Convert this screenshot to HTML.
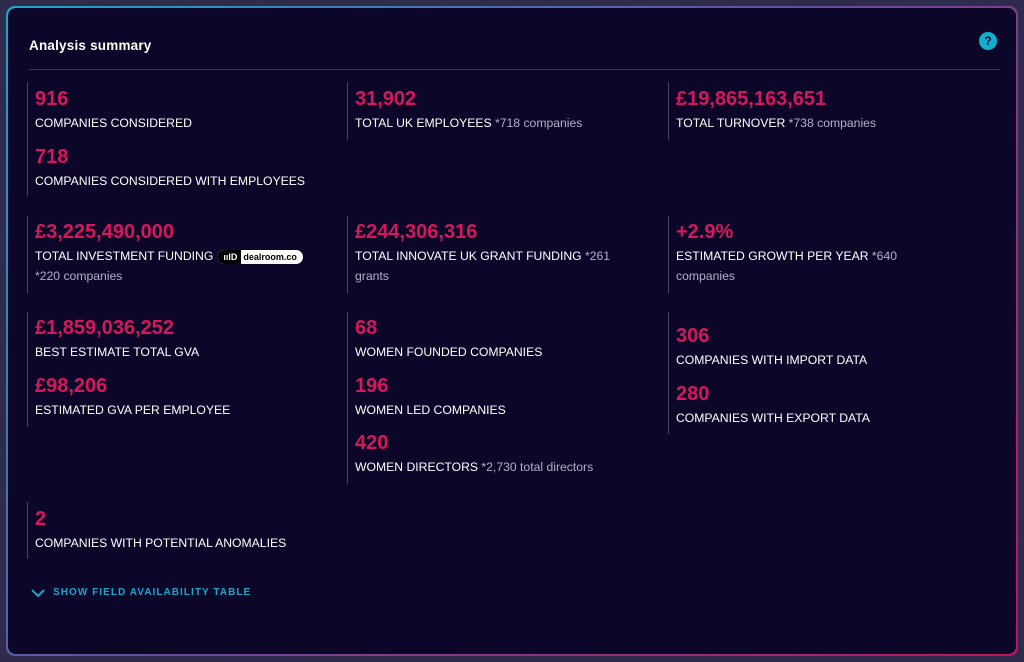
<!DOCTYPE html>
<html><head><meta charset="utf-8"><style>
*{margin:0;padding:0;box-sizing:border-box}
body{width:1024px;height:662px;background:#2f2b4c;font-family:"Liberation Sans",sans-serif;position:relative;overflow:hidden}
.card{position:absolute;left:6px;top:6px;width:1012px;height:650px;border-radius:9px;background:linear-gradient(135deg,#1aa6c8,#6a4a9a 50%,#c0145a);padding:2px}
.in{width:100%;height:100%;border-radius:8px;background:#0c0628;position:relative}
.a{position:absolute;white-space:nowrap}
.t{left:21px;top:30px;color:#fff;font-size:13.5px;font-weight:bold;letter-spacing:0.2px}
.hr{position:absolute;left:21px;top:61px;width:971px;height:1px;background:#3b3460}
.q{position:absolute;left:971px;top:24px;width:18px;height:18px;border-radius:50%;background:#0fb0d0;color:#0c0628;font-size:12px;font-weight:bold;text-align:center;line-height:18px}
.v{position:absolute;width:1px;background:#4a4468}
.n{color:#d6175c;font-weight:bold;font-size:20px;line-height:20px}
.l{color:#fff;font-size:12.2px;line-height:16px}
.g{color:#b4b0c6}
.dr{display:inline-block;vertical-align:middle;height:14px;border-radius:7px;background:#fff;margin-left:4px;font-size:9px;line-height:14px;color:#000;font-weight:bold;overflow:hidden}
.dr b{display:inline-block;background:#000;color:#fff;padding:0 4px 0 6px;border-radius:7px 0 0 7px}
.dr span{padding:0 6px 0 2px}
.s{color:#1aa6c8;font-size:10px;letter-spacing:1.05px;font-weight:bold}
</style></head><body>
<div class="card"><div class="in">
<div class="a t">Analysis summary</div>
<div class="q">?</div>
<div class="hr"></div>

<div class="v" style="left:19px;top:74px;height:114px"></div>
<div class="a n" style="left:27px;top:81px">916</div>
<div class="a l" style="left:27px;top:107px">COMPANIES CONSIDERED</div>
<div class="a n" style="left:27px;top:139px">718</div>
<div class="a l" style="left:27px;top:165px">COMPANIES CONSIDERED WITH EMPLOYEES</div>

<div class="v" style="left:339px;top:74px;height:58px"></div>
<div class="a n" style="left:347px;top:81px">31,902</div>
<div class="a l" style="left:347px;top:107px">TOTAL UK EMPLOYEES <span class="g">*718 companies</span></div>

<div class="v" style="left:660px;top:74px;height:58px"></div>
<div class="a n" style="left:668px;top:81px">£19,865,163,651</div>
<div class="a l" style="left:668px;top:107px">TOTAL TURNOVER <span class="g">*738 companies</span></div>

<div class="v" style="left:19px;top:208px;height:77px"></div>
<div class="a n" style="left:27px;top:214px">£3,225,490,000</div>
<div class="a l" style="left:27px;top:240px">TOTAL INVESTMENT FUNDING<span class="dr"><b>ıılD</b><span>dealroom.co</span></span></div>
<div class="a l g" style="left:27px;top:260px">*220 companies</div>

<div class="v" style="left:339px;top:208px;height:77px"></div>
<div class="a n" style="left:347px;top:214px">£244,306,316</div>
<div class="a l" style="left:347px;top:240px">TOTAL INNOVATE UK GRANT FUNDING <span class="g">*261</span></div>
<div class="a l g" style="left:347px;top:260px">grants</div>

<div class="v" style="left:660px;top:208px;height:77px"></div>
<div class="a n" style="left:668px;top:214px">+2.9%</div>
<div class="a l" style="left:668px;top:240px">ESTIMATED GROWTH PER YEAR <span class="g">*640</span></div>
<div class="a l g" style="left:668px;top:260px">companies</div>

<div class="v" style="left:19px;top:304px;height:115px"></div>
<div class="a n" style="left:27px;top:310px">£1,859,036,252</div>
<div class="a l" style="left:27px;top:336px">BEST ESTIMATE TOTAL GVA</div>
<div class="a n" style="left:27px;top:368px">£98,206</div>
<div class="a l" style="left:27px;top:394px">ESTIMATED GVA PER EMPLOYEE</div>

<div class="v" style="left:339px;top:304px;height:172px"></div>
<div class="a n" style="left:347px;top:310px">68</div>
<div class="a l" style="left:347px;top:336px">WOMEN FOUNDED COMPANIES</div>
<div class="a n" style="left:347px;top:368px">196</div>
<div class="a l" style="left:347px;top:394px">WOMEN LED COMPANIES</div>
<div class="a n" style="left:347px;top:425px">420</div>
<div class="a l" style="left:347px;top:451px">WOMEN DIRECTORS <span class="g">*2,730 total directors</span></div>

<div class="v" style="left:660px;top:304px;height:122px"></div>
<div class="a n" style="left:668px;top:318px">306</div>
<div class="a l" style="left:668px;top:344px">COMPANIES WITH IMPORT DATA</div>
<div class="a n" style="left:668px;top:376px">280</div>
<div class="a l" style="left:668px;top:402px">COMPANIES WITH EXPORT DATA</div>

<div class="v" style="left:19px;top:494px;height:57px"></div>
<div class="a n" style="left:27px;top:501px">2</div>
<div class="a l" style="left:27px;top:527px">COMPANIES WITH POTENTIAL ANOMALIES</div>

<svg class="a" style="left:23px;top:580px" width="14" height="10"><polyline points="1,2 7,8 13,2" fill="none" stroke="#1aa6c8" stroke-width="2"/></svg>
<div class="a s" style="left:45px;top:579px">SHOW FIELD AVAILABILITY TABLE</div>
</div></div>
</body></html>
